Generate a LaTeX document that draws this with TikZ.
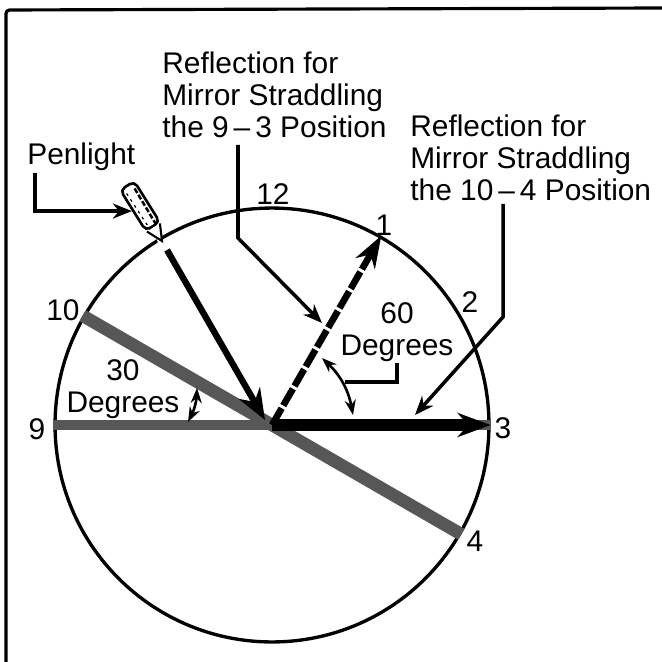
\documentclass[tikz,border=0pt]{standalone}
\usepackage{fontspec}
\setmainfont{Liberation Sans}
\usetikzlibrary{arrows.meta,calc}

\tikzset{
	leader/.style={line width=2pt, -{Stealth[length=0.38cm, width=0.3cm]}},
	plainleader/.style={line width=1.8pt},
	mirror/.style={line width=#1, color=black!66},
	bowarrow/.style={line width=1.5pt, {Stealth[length=0.3cm, width=0.22cm]}-{Stealth[length=0.3cm, width=0.22cm]}},
	label/.style={font=\fontsize{17}{18.2}\selectfont, inner sep=0pt},
	caption/.style={label, align=left, anchor=west},
}

\begin{document}
\begin{tikzpicture}[x=0.02cm, y=-0.02cm]
	\useasboundingbox (0, 0) rectangle (662, 662);
	% frame
	\coordinate (framebl) at (6, 662);
	\coordinate (frametl) at (6, 10);
	\coordinate (frametr) at (662, 8);
	\draw[line width=1.8pt, rounded corners=2pt] (framebl) -- (frametl) -- (frametr);
	% dial and mirrors
	\coordinate (hub) at (272, 425);
	\node[draw, circle, line width=1.9pt, minimum size=8.68cm, inner sep=0pt] (dial) at (hub) {};
	\draw[mirror=6.2pt] (dial.180) -- (dial.0);
	\draw[mirror=7.2pt] (dial.150) -- (dial.-30);
	% penlight
	\node[draw, fill=white, line width=1.5pt, rounded corners=3pt, rotate=-58, minimum width=0.96cm, minimum height=0.33cm, inner sep=0pt] (penlight) at (140, 206) {};
	\coordinate (pentip) at (162, 241);
	\fill[white] ($(pentip)+(-6, -4)$) -- (pentip) -- ($(pentip)+(3, 5)$) -- ($(pentip)+(-3, 5)$) -- cycle;
	\draw[line width=1.2pt, fill=white] ($(penlight.north east)!0.1!(penlight.south east)$) -- (pentip) -- ($(penlight.north east)!0.9!(penlight.south east)$);
	\draw[line width=1.4pt, dash pattern={on 3pt off 1.2pt}] ($(penlight.north west)!0.3!(penlight.south west)!0.15!(penlight.north east)$) -- ($(penlight.north east)!0.3!(penlight.south east)$);
	\draw[line width=0.7pt, dash pattern={on 1.5pt off 2.5pt}] ($(penlight.north west)!0.7!(penlight.south west)!0.15!(penlight.south east)$) -- ($(penlight.north east)!0.7!(penlight.south east)$);
	% rays
	\coordinate (raystart) at (167, 250);
	\coordinate (rayend) at (265, 420);
	\draw[line width=3.6pt, -{Stealth[length=0.62cm, width=0.48cm]}] (raystart) -- (rayend);
	\draw[line width=3.8pt, dash pattern={on 11pt off 1.8pt}, -{Stealth[length=0.64cm, width=0.44cm]}] (hub) -- (dial.60);
	\draw[line width=6.6pt, -{Stealth[length=0.66cm, width=0.48cm]}] (hub) -- (dial.0);
	% labels
	\node[label] (twelve) at (273, 194) {12};
	\node[label] (one) at (384, 225) {1};
	\node[label] (two) at (470, 302) {2};
	\node[label] (three) at (503, 428) {3};
	\node[label] (four) at (475, 541) {4};
	\node[label] (nine) at (37, 429) {9};
	\node[label] (ten) at (63, 310) {10};
	\node[label, align=center] (thirty) at (123, 389) {30\\Degrees};
	\node[label, align=center] (sixty) at (397, 332) {60\\Degrees};
	\node[caption] (pentext) at (27, 157) {Penlight};
	\node[caption] (ninethree) at (162, 95) {Reflection for\\Mirror Straddling\\the 9\,--\,3 Position};
	\node[caption] (tenfour) at (410, 158) {Reflection for\\Mirror Straddling\\the 10\,--\,4 Position};
	% leaders
	\coordinate (pentop) at (35, 173);
	\draw[leader] (pentop) |- (penlight.south);
	\coordinate (ninetop) at (238, 145);
	\coordinate (ninebend) at (238, 238);
	\coordinate (ninehead) at (322, 323);
	\draw[leader] (ninetop) -- (ninebend) -- (ninehead);
	\coordinate (tentop) at (503, 204);
	\coordinate (tenbend) at (503, 317);
	\coordinate (tenhead) at (415, 415);
	\draw[leader] (tentop) -- (tenbend) -- (tenhead);
	% angle marks
	\coordinate (thirtya) at (197, 388);
	\coordinate (thirtyb) at (188, 422);
	\draw[bowarrow] (thirtya) to[bend left=12] (thirtyb);
	\coordinate (sixtya) at (322, 358);
	\coordinate (sixtyb) at (353, 415);
	\coordinate (sixtybow) at (345, 382);
	\coordinate (sixtydrop) at (397, 363);
	\draw[bowarrow] (sixtya) to[bend left=18] (sixtyb);
	\draw[plainleader] (sixtydrop) |- (sixtybow);
\end{tikzpicture}
\end{document}
